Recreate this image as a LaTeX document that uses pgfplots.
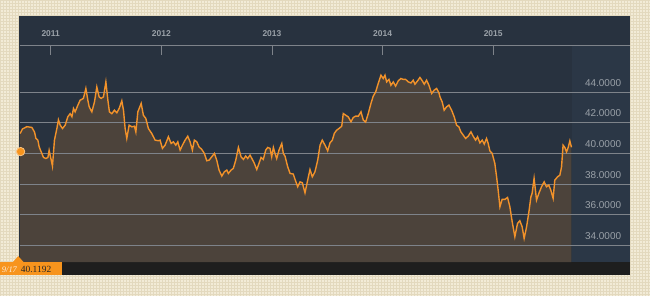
\documentclass[border=0pt]{standalone}
\usepackage{pgfplots}
\pgfplotsset{compat=1.18}
\usepackage{pgfplotstable}
\usepackage{fontspec}
\setmainfont{Liberation Sans}
\newfontfamily\seriffont{Liberation Serif}
\definecolor{bgbeige}{HTML}{F2EBD7}
\definecolor{bggrid}{HTML}{E3D9BE}
\definecolor{navy}{HTML}{28323F}
\definecolor{navyr}{HTML}{2B3746}
\definecolor{brownfill}{HTML}{4C433B}
\definecolor{lineor}{HTML}{F2922A}
\definecolor{gridc}{HTML}{7E838A}
\definecolor{barblack}{HTML}{1E1E1E}
\definecolor{tagor}{HTML}{F7941D}
\definecolor{labgray}{HTML}{9AA1A8}

\pgfplotstableread{
year value
2010.724 41.30
2010.745 41.60
2010.785 41.75
2010.830 41.70
2010.854 41.40
2010.866 41.00
2010.884 40.87
2010.896 40.43
2010.914 40.10
2010.935 39.74
2010.957 39.67
2010.975 39.74
2010.986 40.20
2011.005 39.56
2011.016 39.17
2011.034 40.87
2011.056 41.63
2011.070 42.20
2011.086 41.85
2011.107 41.63
2011.131 41.85
2011.155 42.40
2011.176 42.60
2011.192 42.40
2011.206 42.94
2011.221 42.72
2011.246 43.16
2011.266 43.48
2011.296 43.60
2011.318 44.25
2011.336 43.48
2011.348 43.05
2011.372 42.72
2011.396 43.37
2011.417 44.35
2011.438 43.70
2011.456 43.60
2011.477 43.70
2011.499 44.68
2011.517 43.48
2011.531 42.72
2011.553 42.60
2011.576 42.83
2011.598 42.66
2011.619 42.94
2011.643 43.44
2011.658 42.83
2011.673 41.63
2011.688 40.98
2011.709 41.85
2011.734 41.74
2011.757 41.78
2011.770 41.40
2011.788 42.72
2011.818 43.27
2011.838 42.50
2011.860 42.29
2011.883 41.63
2011.914 41.30
2011.944 40.87
2011.974 40.83
2011.989 40.87
2012.010 40.33
2012.034 40.54
2012.064 41.09
2012.089 40.65
2012.109 40.76
2012.131 40.54
2012.149 40.76
2012.170 40.22
2012.191 40.54
2012.215 40.87
2012.239 41.13
2012.260 40.76
2012.281 40.22
2012.299 40.87
2012.321 40.76
2012.341 40.43
2012.366 40.26
2012.389 40.00
2012.411 39.52
2012.432 39.56
2012.456 39.78
2012.480 40.00
2012.501 39.56
2012.522 38.91
2012.547 38.52
2012.570 38.80
2012.592 38.91
2012.606 38.69
2012.631 38.91
2012.651 39.02
2012.673 39.56
2012.697 40.39
2012.721 39.78
2012.742 39.61
2012.763 39.83
2012.781 39.67
2012.802 39.89
2012.823 39.61
2012.841 39.35
2012.863 38.95
2012.883 39.35
2012.902 39.74
2012.922 39.61
2012.944 40.22
2012.962 40.39
2012.983 40.33
2012.998 39.78
2013.013 40.39
2013.028 40.00
2013.043 39.67
2013.064 40.22
2013.089 40.65
2013.103 40.00
2013.118 39.83
2013.143 39.12
2013.164 38.69
2013.193 38.65
2013.209 38.30
2013.233 37.82
2013.254 38.14
2013.275 38.08
2013.299 37.42
2013.323 38.25
2013.344 38.95
2013.365 38.47
2013.389 38.80
2013.414 39.56
2013.435 40.54
2013.455 40.87
2013.480 40.54
2013.504 40.17
2013.525 40.69
2013.546 40.87
2013.564 41.31
2013.585 41.52
2013.606 41.63
2013.631 41.78
2013.645 42.61
2013.667 42.50
2013.690 42.39
2013.715 42.07
2013.735 42.35
2013.757 42.44
2013.781 42.44
2013.805 42.72
2013.826 42.18
2013.847 42.05
2013.871 42.61
2013.895 43.27
2013.916 43.75
2013.938 44.03
2013.961 44.58
2013.986 45.12
2014.006 44.90
2014.022 45.12
2014.037 44.68
2014.058 44.84
2014.076 44.46
2014.097 44.68
2014.118 44.40
2014.142 44.75
2014.166 44.90
2014.187 44.84
2014.209 44.84
2014.232 44.68
2014.257 44.61
2014.277 44.79
2014.293 44.53
2014.317 44.75
2014.338 44.97
2014.359 44.75
2014.377 44.53
2014.398 44.79
2014.419 44.46
2014.444 43.92
2014.467 44.14
2014.489 44.25
2014.510 43.96
2014.519 43.70
2014.539 43.37
2014.557 42.83
2014.579 43.05
2014.600 43.16
2014.624 42.83
2014.648 42.39
2014.669 41.85
2014.690 41.74
2014.708 41.41
2014.729 41.20
2014.751 40.98
2014.774 41.13
2014.799 41.41
2014.819 41.13
2014.841 40.87
2014.859 41.09
2014.880 40.69
2014.901 40.87
2014.919 40.61
2014.940 40.98
2014.955 40.65
2014.970 40.17
2014.991 40.00
2015.015 39.35
2015.031 38.47
2015.045 37.60
2015.061 36.51
2015.081 36.99
2015.106 36.99
2015.130 37.12
2015.151 36.51
2015.172 35.53
2015.196 34.55
2015.220 35.42
2015.241 35.60
2015.262 35.20
2015.280 34.44
2015.302 35.20
2015.323 36.18
2015.341 37.16
2015.352 37.39
2015.370 38.37
2015.392 36.95
2015.413 37.39
2015.437 37.82
2015.461 38.14
2015.482 37.82
2015.503 37.93
2015.521 37.60
2015.542 37.06
2015.557 38.25
2015.582 38.47
2015.603 38.58
2015.618 39.12
2015.632 40.54
2015.648 40.39
2015.663 40.10
2015.678 40.39
2015.693 40.82
2015.708 40.40
}\pricedata

\pgfplotsset{
  common/.style={
    at={(19.5bp,-262bp)}, anchor=south west,
    scale only axis, width=610.5bp, height=217bp,
    xmin=2010.72, xmax=2016.235, ymin=32.895, ymax=47.08,
  },
  bare/.style={common, hide axis},
}

\begin{document}
\begin{tikzpicture}
\fill[bgbeige] (0bp,0bp) rectangle (650bp,-296bp);
\draw[bggrid, line width=0.45bp, step=3bp] (0bp,-296bp) grid (650bp,0bp);
\fill[navy] (19bp,-16bp) rectangle (630bp,-275bp);
\fill[navyr] (572bp,-45bp) rectangle (630bp,-262bp);
\fill[barblack] (19bp,-262bp) rectangle (630bp,-275bp);
% area under the curve
\begin{axis}[bare]
\addplot[fill=brownfill, draw=none] table[x=year,y=value]{\pricedata} -- (axis cs:2015.708,32.895) -- (axis cs:2010.724,32.895) -- cycle;
\end{axis}
% grid, ticks and labels over the area
\begin{axis}[common,
  axis x line*=top, axis y line*=right,
  y axis line style={draw=none},
  x axis line style={draw=gridc, line width=0.8bp},
  xtick={2011,2012,2013,2014,2015},
  xticklabels={2011,2012,2013,2014,2015},
  ytick={34,36,38,40,42,44},
  yticklabels={34.0000,36.0000,38.0000,40.0000,42.0000,44.0000},
  tick align=inside,
  xtick style={draw=gridc, line width=0.8bp},
  major tick length=10bp,
  ytick style={draw=none},
  ymajorgrids,
  grid style={draw=gridc, line width=0.8bp},
  xticklabel style={font=\fontsize{8.5}{10}\selectfont\bfseries, text=labgray, anchor=base, inner sep=0pt, yshift=8.3bp},
  yticklabel style={font=\fontsize{10}{12}\selectfont, text=labgray, anchor=base east, inner sep=0pt, xshift=-8.5bp, yshift=6bp},
]
\end{axis}
% the price line and the current value marker
\begin{axis}[bare, clip=false]
\addplot[lineor, line width=1.4bp] table[x=year,y=value]{\pricedata};
\addplot[only marks, mark=*, mark size=4.2bp, mark options={fill=tagor, draw=tagor!55!white, line width=0.8bp}] coordinates {(2010.728,40.12)};
\end{axis}
\fill[tagor] (0bp,-262bp) rectangle (62bp,-275bp);
\fill[tagor] (12.5bp,-262.2bp) -- (18bp,-256bp) -- (23.5bp,-262.2bp) -- cycle;
\node[anchor=base west, inner sep=0pt, text=white!85!tagor, font=\seriffont\itshape\fontsize{8.5}{10}\selectfont] at (1.5bp,-272.3bp) {9/17};
\node[anchor=base west, inner sep=0pt, text=black!85, font=\seriffont\fontsize{9.5}{11}\selectfont] at (20.5bp,-272.5bp) {40.1192};
\end{tikzpicture}
\end{document}
